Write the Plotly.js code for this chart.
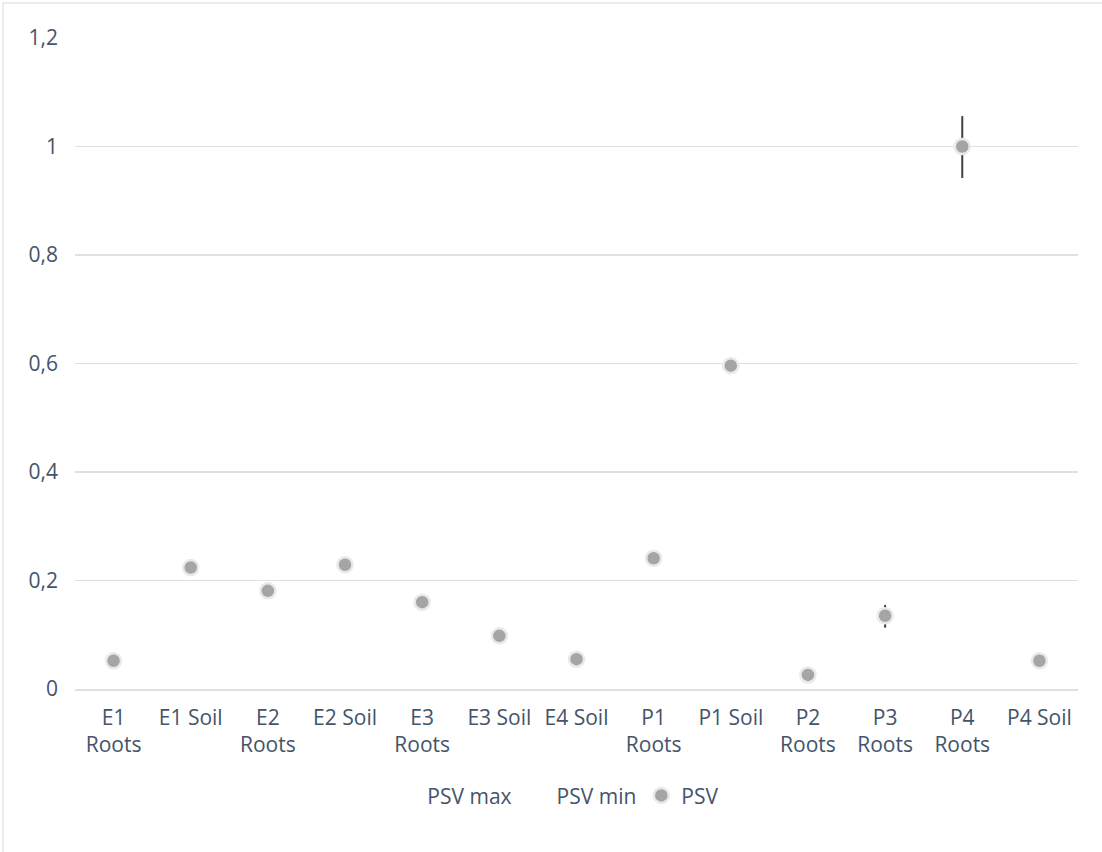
<!DOCTYPE html>
<html>
<head>
<meta charset="utf-8">
<script src="https://cdn.plot.ly/plotly-3.0.1.min.js"></script>
<style>
  html, body { margin: 0; padding: 0; background: #ffffff; }
  #chart { width: 1102px; height: 852px; }
</style>
</head>
<body>
<div id="chart"></div>
<script>
// Sample categories (site + compartment)
const categories = ['E1 Roots', 'E1 Soil', 'E2 Roots', 'E2 Soil', 'E3 Roots', 'E3 Soil', 'E4 Soil',
                    'P1 Roots', 'P1 Soil', 'P2 Roots', 'P3 Roots', 'P4 Roots', 'P4 Soil'];
const tickLabels = ['E1<br>Roots', 'E1 Soil', 'E2<br>Roots', 'E2 Soil', 'E3<br>Roots', 'E3 Soil', 'E4 Soil',
                    'P1<br>Roots', 'P1 Soil', 'P2<br>Roots', 'P3<br>Roots', 'P4<br>Roots', 'P4 Soil'];

// PSV values with their upper / lower bounds
const psv    = [0.052, 0.224, 0.181, 0.229, 0.160, 0.098, 0.055, 0.241, 0.596, 0.026, 0.135, 1.000, 0.052];
const psvMax = [0.052, 0.224, 0.181, 0.229, 0.160, 0.098, 0.055, 0.241, 0.596, 0.026, 0.155, 1.056, 0.052];
const psvMin = [0.052, 0.224, 0.181, 0.229, 0.160, 0.098, 0.055, 0.241, 0.596, 0.026, 0.113, 0.942, 0.052];

const yTicks = [0, 0.2, 0.4, 0.6, 0.8, 1, 1.2];

const textColor = '#44546A';
const gridColor = '#dde1e7';
const fontFamily = 'Open Sans, Lato, sans-serif';
const fontSize = 21;

const errPlus  = psv.map((v, i) => +(psvMax[i] - v).toFixed(4));
const errMinus = psv.map((v, i) => +(v - psvMin[i]).toFixed(4));

const hidden = { color: 'rgba(0,0,0,0)', size: 1 };

const traces = [
  {
    name: 'PSV max', type: 'scatter', mode: 'markers',
    x: categories, y: psvMax, marker: hidden, hoverinfo: 'skip'
  },
  {
    name: 'PSV min', type: 'scatter', mode: 'markers',
    x: categories, y: psvMin, marker: hidden, hoverinfo: 'skip'
  },
  {
    name: 'PSV', type: 'scatter', mode: 'markers',
    x: categories, y: psv,
    marker: { color: '#a5a5a5', size: 15, line: { color: '#e9e9e9', width: 2.5 } },
    error_y: {
      type: 'data', symmetric: false,
      array: errPlus, arrayminus: errMinus,
      color: '#404040', thickness: 2, width: 0
    }
  }
];

const layout = {
  width: 1102, height: 852,
  margin: { l: 75, r: 24, t: 38, b: 163 },
  paper_bgcolor: '#ffffff', plot_bgcolor: '#ffffff',
  separators: ', ',
  font: { family: fontFamily, size: fontSize, color: textColor },
  showlegend: true,
  legend: {
    orientation: 'h', x: 0.4794, xanchor: 'center', y: -0.164, yanchor: 'middle',
    font: { family: fontFamily, size: fontSize, color: textColor },
    itemwidth: 30, traceorder: 'normal', bgcolor: 'rgba(0,0,0,0)'
  },
  xaxis: {
    type: 'category', range: [-0.5, categories.length - 0.5],
    tickvals: categories, ticktext: tickLabels,
    showgrid: false, zeroline: false,
    showline: true, linecolor: gridColor, linewidth: 1.5,
    ticks: '', ticklabelstandoff: 9,
    tickfont: { family: fontFamily, size: fontSize, color: textColor },
    fixedrange: true
  },
  yaxis: {
    range: [0, 1.2], tickvals: yTicks,
    showgrid: true, gridcolor: gridColor, gridwidth: 1.5,
    zeroline: false, showline: false,
    ticks: '', ticklabelstandoff: 16,
    tickfont: { family: fontFamily, size: fontSize, color: textColor },
    fixedrange: true
  },
  shapes: [
    {
      type: 'rect', xref: 'paper', yref: 'paper',
      x0: -0.0718, x1: 1.05, y0: -0.3, y1: 1.0538,
      line: { color: '#e3e6eb', width: 1.5 }, fillcolor: 'rgba(0,0,0,0)', layer: 'below'
    }
  ]
};

Plotly.newPlot('chart', traces, layout, { displayModeBar: false, staticPlot: true });
</script>
</body>
</html>
